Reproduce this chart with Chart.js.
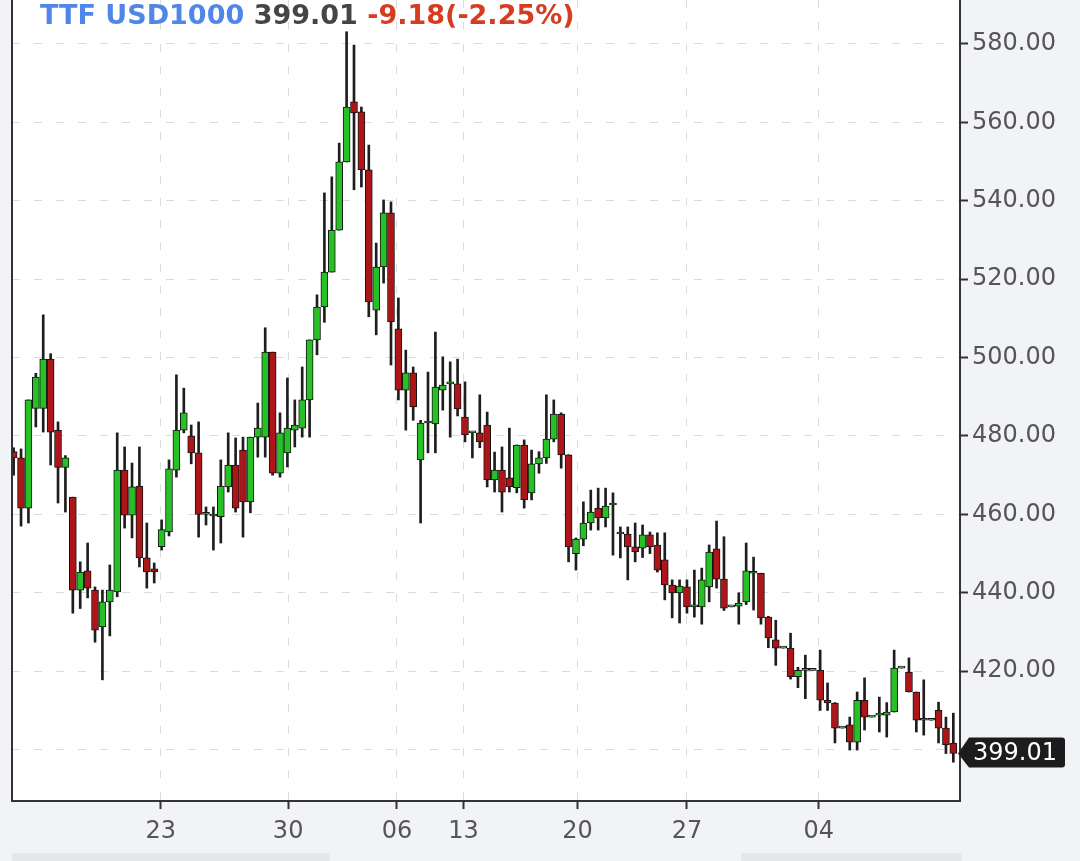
<!DOCTYPE html>
<html><head><meta charset="utf-8">
<script src="https://cdn.jsdelivr.net/npm/chart.js@4/dist/chart.umd.min.js"></script>
<style>
html,body{margin:0;padding:0;background:#f1f3f6;}
#wrap{width:1080px;height:861px;position:relative;}
</style></head><body><div id="wrap"><canvas id="c" width="1080" height="861"></canvas></div>
<script>
const opens = [476,474.4,461.6,487,487,499.6,481.5,472,464.4,440.7,445.6,440.7,431.3,437.7,440.2,471.3,459.8,467.2,448.9,446.1,
451.8,455.5,471.3,481.5,480,475.7,460,459.6,459.4,467,472.6,476.4,463.2,479.7,479.7,501.4,470.5,475.7,481.5,482,
489.2,504.5,512.9,521.8,532.5,549.9,565.2,562.7,547.9,512.1,523.1,536.9,507.3,491.7,496.1,473.9,483.3,483.1,491.7,493.3,
493.3,484.8,480.8,480.8,482.8,468.8,471.3,469.3,466.8,477.7,465.5,472.9,474.4,479.2,485.6,475.2,450,453.7,457.8,461.6,
459.1,462.4,455,455,451.7,451.4,454.8,452.2,448.4,442,440,441.5,436.4,436.4,441.5,451.2,443.5,436.4,436.6,437.7,
445,445,433.8,428,425.9,425.9,418.6,420.2,420.2,420.2,412.6,411.9,405.5,406.3,401.9,412.6,408.3,408.8,408.8,409.6,
420.8,419.8,414.7,407.5,407.5,410,405.5,401.7];
const highs = [477,476.7,489.2,496,510.9,501,483.6,475,464.4,447.9,452.7,441.5,440.7,447.1,480.8,477.2,473.1,477.2,457.8,447.6,
458.6,473.9,495.6,492.2,482.8,483.6,461.9,461.9,473.9,480.8,479.5,479.7,479.7,488.4,507.6,501.4,485.9,494.8,489.2,497.6,
504.5,516,542,546.1,554.7,583.1,579.7,563.9,554.2,529.2,540.2,539.7,515.2,501.9,497.6,484,496.3,506.5,500.2,498.9,
499.6,493.8,481,490.5,486.1,475.9,477.2,482,477.7,479,476.4,476,490.5,489.2,485.9,475.2,454,463.2,466.2,466.7,
466.7,465.5,456.8,456.8,457.8,457.3,455.5,455.3,455.3,443.3,443.3,443.3,445.8,446.3,452.2,458.3,454.3,436.4,440,452.7,
449.1,445,434,433,425.9,429.7,421,424.1,420.2,425.4,417,412,405.5,408.3,414.7,418.3,408.3,413.4,412,425.4,
420.8,423.4,414.7,417.8,407.5,412.1,408.3,409.3];
const lows = [470,457,457.8,482.3,481,472.6,462.9,460.6,434.8,436,438.7,427.4,417.8,429,439,456.5,454,446.6,441.2,442.5,
450.9,454.5,469.5,480.8,472.9,454.2,457.3,450.9,452.7,465.7,460.6,454.2,460.4,474.6,474.6,470,469.5,472.1,477.2,479.7,
479.7,500.7,509,521.8,532.5,549.9,542.8,543.5,510.4,505.8,519,498.1,489.2,481.5,484,457.8,475.7,475.7,486.6,479.7,
485.1,478.5,474.4,477,467,465.7,460.6,465.7,465.5,461.6,463.7,470.5,473,478.5,471.8,447.9,445.8,452,456,456,
456.8,449.6,448.9,443.3,447.9,449,450,445.3,438.2,433.6,432.3,434.8,433.8,432,437.7,441.2,435.5,436.4,432,437,
435.6,432,426,421.5,425.9,418,415.8,413,420.2,410,410,401.7,405.5,399.9,399.9,405,408.3,404.5,403.2,409.6,
420.8,414.7,404.5,403.7,407.5,401.7,399,396.8];
const closes = [474.4,461.6,489.2,495,499.6,481,472,474.4,440.7,445.3,441.2,430.5,437.7,440.7,471.3,459.8,467,448.9,445.3,445.3,
456.1,471.6,481.5,485.9,475.7,460,460,459.6,467.2,472.6,461.6,463.2,479.7,482,501.4,470.5,480.8,482,482.8,489.2,
504.5,512.9,521.8,532.5,549.9,563.9,562.4,547.9,514.2,523.1,536.9,509.1,491.7,496.1,487.4,483.3,483.3,492.5,493,493.3,
486.9,480.3,480.8,478.5,468.8,471.3,465.7,467,477.7,463.7,472.9,474.4,479.2,485.6,475.2,451.7,453.7,457.8,460.6,459.1,
462.1,462.4,455,451.7,450.4,454.8,451.7,445.8,442,440,441.7,436.4,436.4,443.3,450.4,443.5,436.1,436.4,437.4,445.6,
445,433.6,428.5,425.9,425.9,418.6,420.2,420.2,420.2,412.6,411.9,405.5,405.5,401.9,412.6,408.3,408.3,408.8,409.6,420.8,
420.8,414.7,407.5,407.5,407.5,405.5,401.2,399.01];
const tickIndex = [19.9, 37.1, 51.8, 60.8, 76.2, 91, 108.8];
const tickLabels = ['23', '30', '06', '13', '20', '27', '04'];
const symbolName = 'TTF USD1000';
const lastText = '399.01';
const changeText = '-9.18(-2.25%)';

const idx = opens.map((_, i) => i);
const bodyData = idx.map(i => ({x: i, y: [opens[i], closes[i]]}));
const wickData = idx.map(i => ({x: i, y: [lows[i], highs[i]]}));
const bodyColors = idx.map(i => closes[i] >= opens[i] ? '#27c127' : '#ad1518');

const FONT = '"DejaVu Sans", sans-serif';
const bgPlugin = {
  id: 'bg',
  beforeDraw(chart) {
    const {ctx, chartArea: a} = chart;
    ctx.save();
    ctx.fillStyle = '#f1f3f6';
    ctx.fillRect(0, 0, chart.width, chart.height);
    ctx.fillStyle = '#e5e7ea';
    ctx.fillRect(a.left, chart.height - 8, 318, 8);
    ctx.fillRect(a.right - 219, chart.height - 8, 221, 8);
    ctx.fillStyle = '#ffffff';
    ctx.fillRect(a.left, a.top, a.right - a.left, a.bottom - a.top);
    ctx.restore();
  },
  afterDraw(chart) {
    const {ctx, chartArea: a} = chart;
    const ys = chart.scales.y;
    ctx.save();
    ctx.strokeStyle = '#333';
    ctx.lineWidth = 2;
    ctx.beginPath();
    ctx.moveTo(a.left, a.top);
    ctx.lineTo(a.left, a.bottom + 1);
    ctx.stroke();
    ctx.font = 'bold 27px ' + FONT;
    ctx.textBaseline = 'middle';
    let x = a.left + 28;
    const ty = 17;
    ctx.fillStyle = '#4f86e8';
    ctx.fillText(symbolName, x, ty);
    x += ctx.measureText(symbolName + ' ').width;
    ctx.fillStyle = '#454545';
    ctx.fillText(lastText, x, ty);
    x += ctx.measureText(lastText + ' ').width;
    ctx.fillStyle = '#d63c20';
    ctx.fillText(changeText, x, ty);
    const py = ys.getPixelForValue(closes[closes.length - 1]);
    const r = a.right;
    ctx.fillStyle = '#1c1c1c';
    ctx.beginPath();
    ctx.moveTo(r - 2, py);
    ctx.lineTo(r + 9, py - 16);
    ctx.lineTo(r + 102, py - 16);
    ctx.quadraticCurveTo(r + 105, py - 16, r + 105, py - 13);
    ctx.lineTo(r + 105, py + 11);
    ctx.quadraticCurveTo(r + 105, py + 14, r + 102, py + 14);
    ctx.lineTo(r + 9, py + 14);
    ctx.closePath();
    ctx.fill();
    ctx.fillStyle = '#ffffff';
    ctx.font = '24px ' + FONT;
    ctx.textAlign = 'left';
    ctx.fillText(lastText, r + 13, py);
    ctx.restore();
  }
};

function noPad(scale) {
  scale.paddingTop = 0; scale.paddingBottom = 0;
  scale.paddingLeft = 0; scale.paddingRight = 0;
}

new Chart(document.getElementById('c'), {
  type: 'bar',
  data: {
    datasets: [
      {
        data: bodyData,
        backgroundColor: bodyColors,
        borderColor: '#151515',
        borderWidth: 1,
        borderSkipped: false,
        barThickness: 7,
        minBarLength: 2,
        grouped: false
      },
      {
        data: wickData,
        backgroundColor: '#1e1e1e',
        borderWidth: 0,
        barThickness: 2,
        grouped: false
      }
    ]
  },
  options: {
    responsive: false,
    devicePixelRatio: 1,
    animation: false,
    events: [],
    layout: {padding: {left: 12, top: 0, right: 0, bottom: 0}},
    plugins: {legend: {display: false}, tooltip: {enabled: false}},
    scales: {
      x: {
        type: 'linear',
        min: -0.22,
        max: 127.9,
        offset: false,
        afterBuildTicks(scale) { scale.ticks = tickIndex.map(v => ({value: v})); },
        afterFit(scale) { scale.height = 60; noPad(scale); },
        ticks: {
          autoSkip: false, maxRotation: 0, padding: 8,
          font: {family: FONT, size: 24}, color: '#555',
          callback: (v, i) => tickLabels[i]
        },
        grid: {offset: false, color: '#dcdcdc', lineWidth: 1, tickColor: '#333', tickLength: 8, tickWidth: 2},
        border: {display: true, color: '#333', width: 2, dash: [8, 14]}
      },
      y: {
        type: 'linear',
        position: 'right',
        min: 386.9,
        max: 591.2,
        beginAtZero: false,
        afterFit(scale) { scale.width = 120; noPad(scale); },
        ticks: {
          stepSize: 20, includeBounds: false, padding: 4,
          font: {family: FONT, size: 24}, color: '#555',
          callback: v => Number(v).toFixed(2)
        },
        grid: {color: '#dcdcdc', lineWidth: 1, tickColor: '#333', tickLength: 8, tickWidth: 2},
        border: {display: true, color: '#333', width: 2, dash: [8, 14]}
      }
    }
  },
  plugins: [bgPlugin]
});
</script></body></html>
